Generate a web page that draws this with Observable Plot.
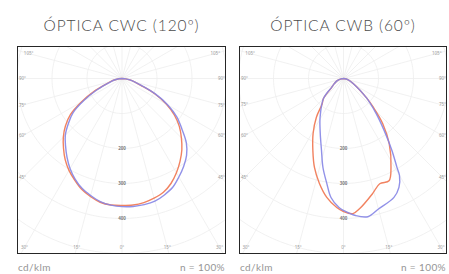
<!DOCTYPE html>
<html><head><meta charset="utf-8">
<script src="https://cdn.jsdelivr.net/npm/d3@7"></script>
<script src="https://cdn.jsdelivr.net/npm/@observablehq/plot@0.6"></script>
<style>
body{margin:0;background:#fff;width:449px;height:274px;overflow:hidden;position:relative;font-family:Lato,"Open Sans",sans-serif;}
.title{position:absolute;top:16px;height:18px;line-height:18px;font-size:15.5px;font-weight:300;color:#4a4a4a;text-align:center;white-space:nowrap;letter-spacing:0.9px}
.cap{position:absolute;top:261px;line-height:12px;font-size:10px;color:#959595;white-space:nowrap;letter-spacing:0.4px}
.panel{position:absolute;top:45.5px;border:1.5px solid #262626;line-height:0;background:#fff}
</style></head><body>
<script>
// ---- texts ----
const titles = ["ÓPTICA CWC (120º)", "ÓPTICA CWB (60º)"];
const unitLabel = "cd/klm";
const normLabel = "n = 100%";

// ---- grid ----
const ringValues = [100, 200, 300, 400, 500, 600, 700, 800];
const ringLabelValues = [200, 300, 400];
const radialAngles = [-165,-150,-135,-120,-105,-90,-75,-60,-45,-30,-15,0,15,30,45,60,75,90,105,120,135,150,165,180];
const edgeLabelAngles = [-105,-90,-75,-60,-45,-30,-15,0,15,30,45,60,75,90,105];

// ---- ÓPTICA CWC (120º): angle from nadir (deg), intensity (cd/klm) ----
const cwcAngles = [-90,-85,-80,-75,-70,-65,-60,-55,-50,-45,-40,-35,-30,-25,-20,-15,-10,-5,0,5,10,15,20,25,30,35,40,45,50,55,60,65,70,75,80,85,90];
const cwcBlue  = [0,9,20,31,49,83,126,171,200,229,251,274,297,317,334,346,357,363,366,367,366,363,354,343,325,307,287,260,223,191,151,106,60,37,23,11,0];
const cwcRed   = [0,9,20,34,51,89,134,180,211,237,260,283,303,320,337,349,359,363,363,363,360,354,346,331,311,289,266,240,214,183,146,103,57,37,23,11,0];

// ---- ÓPTICA CWB (60º) ----
const cwbBlueAngles = [-90,-80,-70,-60,-53,-45,-31,-23,-17,-13,-9,-6,-2,0,5,10,15,23,27,30,31,34,38,43,50,63,75,90];
const cwbBlue       = [0,9,20,31,43,81,130,170,215,261,304,342,369,377,393,401,386,369,349,320,297,247,189,137,86,31,14,0];
const cwbRedAngles  = [-90,-80,-70,-60,-53,-45,-40,-35,-29,-23,-18,-13,-8,-3,0,4,7,14,19,24,28,35,41,46,50,63,75,90];
const cwbRed        = [0,9,20,31,43,81,95,135,179,224,268,307,343,369,380,387,375,340,318,320,289,228,171,119,86,31,14,0];

const BLUE = "#8585e6", RED = "#f0744f";

const panels = [
  {left: 18, width: 207, title: titles[0],
   series: [{a: cwcAngles, v: cwcRed, c: RED}, {a: cwcAngles, v: cwcBlue, c: BLUE}]},
  {left: 240, width: 206, title: titles[1],
   series: [{a: cwbRedAngles, v: cwbRed, c: RED}, {a: cwbBlueAngles, v: cwbBlue, c: BLUE}]}
];

const TOP = 47, H = 206, CY = 31, K = 0.35; // px per cd/klm
const rad = d => d * Math.PI / 180;
const px = (a, r) => r * Math.sin(rad(a));
const py = (a, r) => -r * Math.cos(rad(a));

for (const p of panels) {
  const W = p.width;
  const xd = [-(W / 2) / K, (W / 2) / K];
  const yd = [-(H - CY) / K, CY / K];

  const ringPts = ringValues.flatMap(r => d3.range(0, 361, 3).map(a => ({r, a})));
  const radials = radialAngles.map(a => ({a}));
  const insetX = 4 / K, insetY = 6 / K;
  const edge = a => {
    const dx = Math.sin(rad(a)), dy = -Math.cos(rad(a));
    let t = Infinity;
    if (dx > 1e-9) t = Math.min(t, (xd[1] - insetX) / dx);
    if (dx < -1e-9) t = Math.min(t, (xd[0] + insetX) / dx);
    if (dy > 1e-9) t = Math.min(t, (yd[1] - insetY) / dy);
    if (dy < -1e-9) t = Math.min(t, (yd[0] + insetY) / dy);
    return {x: t * dx, y: t * dy, label: Math.abs(a) + "°"};
  };

  const marks = [
    Plot.line(ringPts, {x: d => px(d.a, d.r), y: d => py(d.a, d.r), z: "r", stroke: "#ededed", strokeWidth: 0.8, clip: true}),
    Plot.link(radials, {x1: 0, y1: 0, x2: d => px(d.a, 900), y2: d => py(d.a, 900), stroke: "#ededed", strokeWidth: 0.8, clip: true}),
    Plot.text(edgeLabelAngles.map(edge), {x: "x", y: "y", text: "label", fontSize: 4.5, fill: "#999"}),
    Plot.text(ringLabelValues, {x: 0, y: d => -d, text: d => String(d), fontSize: 4.5, fontWeight: "bold", fill: "#808080"}),
    ...p.series.map(s => Plot.line(s.a.map((a, i) => ({a, r: s.v[i]})), {
      x: d => px(d.a, d.r), y: d => py(d.a, d.r), stroke: s.c, strokeWidth: 1.4, curve: "catmull-rom", strokeOpacity: 0.9, clip: true}))
  ];

  const chart = Plot.plot({
    width: W, height: H, margin: 0,
    x: {domain: xd, axis: null}, y: {domain: yd, axis: null},
    style: {background: "#fff", overflow: "hidden"},
    marks
  });

  const box = document.createElement("div");
  box.className = "panel";
  box.style.left = (p.left - 1.5) + "px";
  box.style.width = W + "px";
  box.style.height = H + "px";
  box.appendChild(chart);
  document.body.appendChild(box);

  const t = document.createElement("div");
  t.className = "title";
  t.style.left = (p.left - 20) + "px";
  t.style.width = (W + 40) + "px";
  t.textContent = p.title;
  document.body.appendChild(t);

  const c1 = document.createElement("div");
  c1.className = "cap";
  c1.style.left = p.left + "px";
  c1.textContent = unitLabel;
  document.body.appendChild(c1);

  const c2 = document.createElement("div");
  c2.className = "cap";
  c2.style.left = (p.left) + "px";
  c2.style.width = W + "px";
  c2.style.textAlign = "right";
  c2.textContent = normLabel;
  document.body.appendChild(c2);
}
</script>
</body></html>
